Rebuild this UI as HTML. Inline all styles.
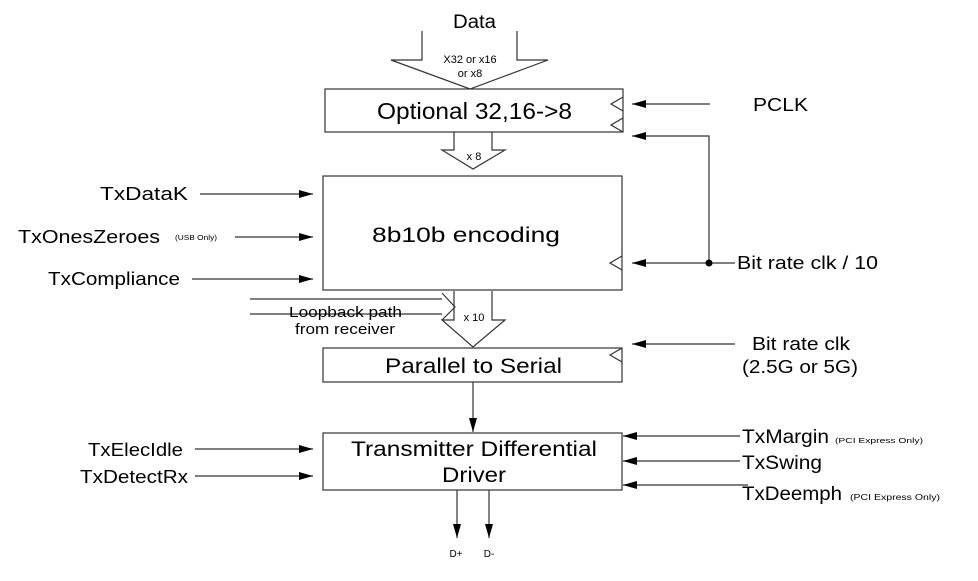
<!DOCTYPE html>
<html><head><meta charset="utf-8"><style>
html,body{margin:0;padding:0;background:#fff;}
svg{display:block;}
text{font-family:"Liberation Sans",sans-serif;fill:#000;}
</style></head><body>
<svg width="978" height="581" viewBox="0 0 978 581" xmlns="http://www.w3.org/2000/svg">
<defs>
<marker id="a" markerWidth="14" markerHeight="8" refX="14" refY="4" orient="auto" markerUnits="userSpaceOnUse"><path d="M0,0 L14,4 L0,8 Z" fill="#000"/></marker>
</defs>
<g stroke="#333" stroke-width="1.2" fill="none">
<path d="M422,31 V60 H391 L470,89 L548,60 H517 V31" fill="#fff"/>
<rect x="325" y="89" width="298" height="43" fill="#fff"/>
<path d="M623,97 L611,104 L623,111 M623,118 L611,125 L623,132"/>
<path d="M454,132 V150 H442 L473,169 L505,150 H492 V132"/>
<rect x="323" y="176" width="299" height="114"/>
<path d="M622,256 L610,263 L622,270"/>
<path d="M454,291 V320 H442 L473,347 L505,320 H492 V291"/>
<path d="M250,299 H442 M250,314 H442 M442,293 L455,307 L442,320"/>
<rect x="323" y="348" width="299" height="34"/>
<path d="M622,348 L610,355 L622,362"/>
<rect x="323" y="433" width="299" height="57"/>
</g>
<g stroke="#333" stroke-width="1.2" fill="none" marker-end="url(#a)">
<line x1="473" y1="382" x2="473" y2="432"/>
<line x1="457" y1="490" x2="457" y2="538"/>
<line x1="489" y1="490" x2="489" y2="538"/>
<line x1="200" y1="194" x2="313" y2="194"/>
<line x1="235" y1="237" x2="313" y2="237"/>
<line x1="192" y1="279" x2="313" y2="279"/>
<line x1="195" y1="449" x2="313" y2="449"/>
<line x1="195" y1="476" x2="313" y2="476"/>
<line x1="710" y1="104" x2="632" y2="104"/>
<path d="M709,263 V136 H632"/>
<line x1="735" y1="263" x2="632" y2="263"/>
<line x1="735" y1="344" x2="632" y2="344"/>
<line x1="740" y1="436" x2="623" y2="436"/>
<line x1="740" y1="461" x2="623" y2="461"/>
<line x1="748" y1="485" x2="623" y2="485"/>
</g>
<circle cx="709" cy="263" r="3.5" fill="#000"/>
<text x="453" y="28" font-size="19" textLength="43" lengthAdjust="spacingAndGlyphs">Data</text>
<text x="470" y="63" font-size="11" text-anchor="middle">X32 or x16</text>
<text x="470" y="77" font-size="11" text-anchor="middle">or x8</text>
<text x="377" y="119" font-size="23" textLength="195" lengthAdjust="spacingAndGlyphs">Optional 32,16-&gt;8</text>
<text x="474" y="160" font-size="11" text-anchor="middle">x 8</text>
<text x="372" y="242" font-size="21" textLength="188" lengthAdjust="spacingAndGlyphs">8b10b encoding</text>
<text x="474" y="321" font-size="11" text-anchor="middle">x 10</text>
<text x="289" y="317" font-size="15" textLength="113" lengthAdjust="spacingAndGlyphs">Loopback path</text>
<text x="295" y="334" font-size="15" textLength="100" lengthAdjust="spacingAndGlyphs">from receiver</text>
<text x="385" y="373" font-size="21" textLength="177" lengthAdjust="spacingAndGlyphs">Parallel to Serial</text>
<text x="351" y="456" font-size="21" textLength="246" lengthAdjust="spacingAndGlyphs">Transmitter Differential</text>
<text x="442" y="482" font-size="21" textLength="64" lengthAdjust="spacingAndGlyphs">Driver</text>
<text x="456" y="557" font-size="10" text-anchor="middle">D+</text>
<text x="489" y="557" font-size="10" text-anchor="middle">D-</text>
<text x="100" y="200" font-size="18" textLength="88" lengthAdjust="spacingAndGlyphs">TxDataK</text>
<text x="18" y="243" font-size="18" textLength="142" lengthAdjust="spacingAndGlyphs">TxOnesZeroes</text>
<text x="175" y="240" font-size="7" textLength="42" lengthAdjust="spacingAndGlyphs">(USB Only)</text>
<text x="48" y="285" font-size="18" textLength="132" lengthAdjust="spacingAndGlyphs">TxCompliance</text>
<text x="88" y="456" font-size="18" textLength="95" lengthAdjust="spacingAndGlyphs">TxElecIdle</text>
<text x="80" y="483" font-size="18" textLength="108" lengthAdjust="spacingAndGlyphs">TxDetectRx</text>
<text x="753" y="111" font-size="18" textLength="55" lengthAdjust="spacingAndGlyphs">PCLK</text>
<text x="737" y="269" font-size="18" textLength="141" lengthAdjust="spacingAndGlyphs">Bit rate clk / 10</text>
<text x="752" y="350" font-size="18" textLength="98" lengthAdjust="spacingAndGlyphs">Bit rate clk</text>
<text x="742" y="373" font-size="18" textLength="116" lengthAdjust="spacingAndGlyphs">(2.5G or 5G)</text>
<text x="742" y="443" font-size="19" textLength="87" lengthAdjust="spacingAndGlyphs">TxMargin</text>
<text x="835" y="443" font-size="7" textLength="88" lengthAdjust="spacingAndGlyphs">(PCI Express Only)</text>
<text x="742" y="469" font-size="19" textLength="80" lengthAdjust="spacingAndGlyphs">TxSwing</text>
<text x="742" y="500" font-size="19" textLength="100" lengthAdjust="spacingAndGlyphs">TxDeemph</text>
<text x="850" y="500" font-size="8" textLength="90" lengthAdjust="spacingAndGlyphs">(PCI Express Only)</text>
</svg>
</body></html>
